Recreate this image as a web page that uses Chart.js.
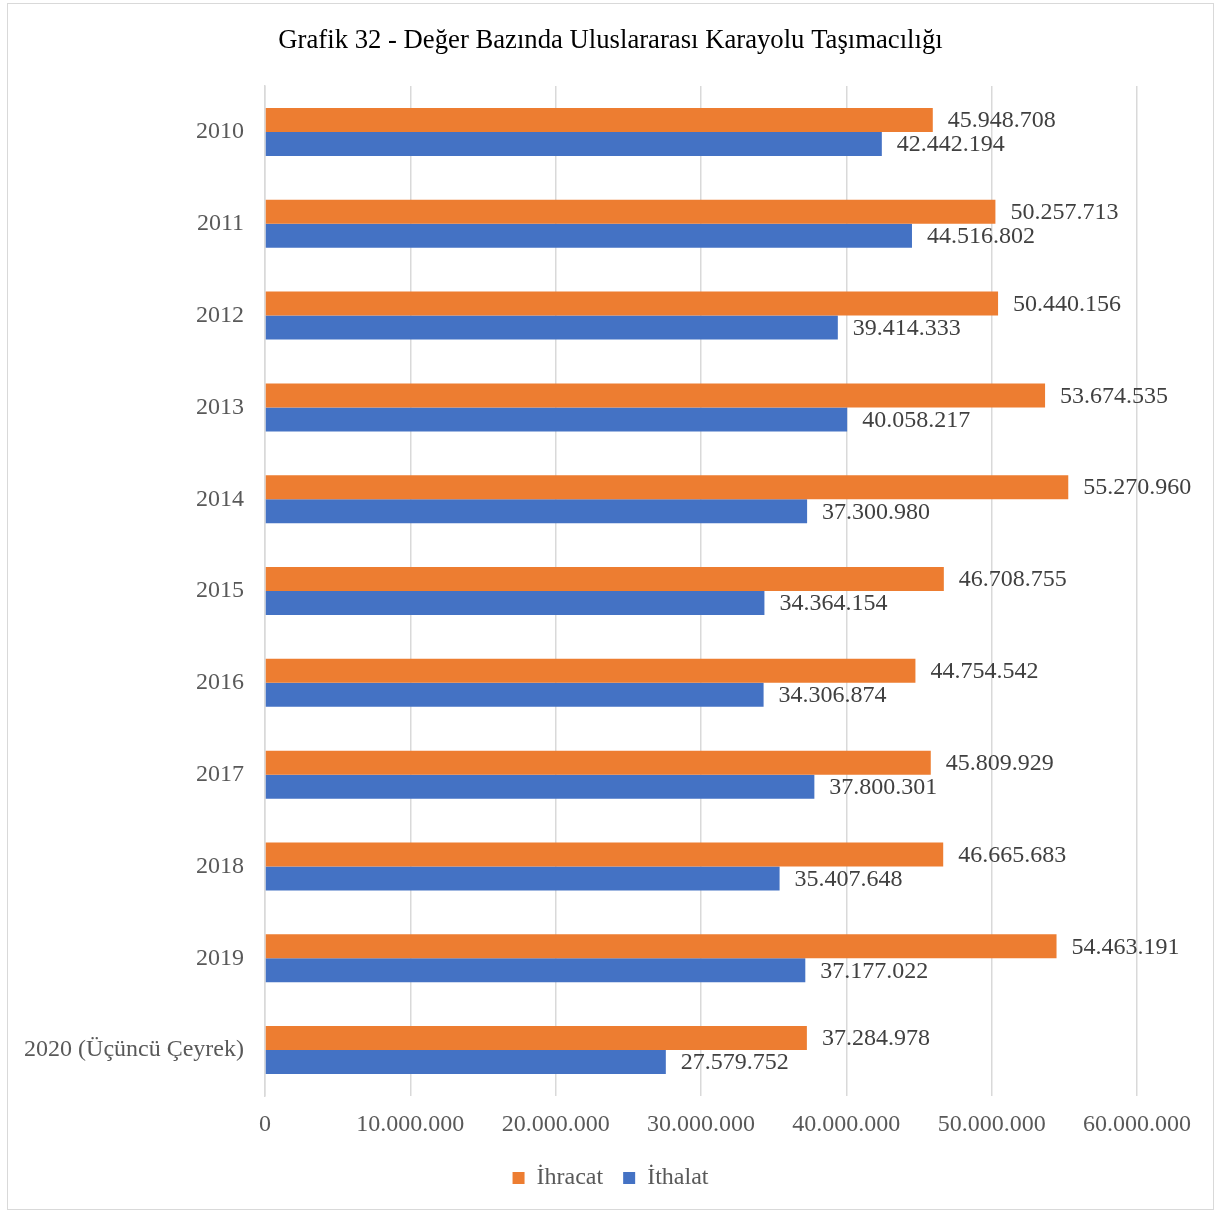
<!DOCTYPE html>
<html>
<head>
<meta charset="utf-8">
<script src="https://cdn.jsdelivr.net/npm/chart.js@4/dist/chart.umd.min.js"></script>
<style>
html,body{margin:0;padding:0;background:#fff;}
#box{position:absolute;left:7px;top:3px;width:1205px;height:1205px;border:1px solid #d9d9d9;}
canvas{display:block;}
</style>
</head>
<body>
<div id="box"><canvas id="myChart" width="1205" height="1205"></canvas></div>
<script>
// chart data
var years = ["2010","2011","2012","2013","2014","2015","2016","2017","2018","2019","2020 (Üçüncü Çeyrek)"];
var ihracat = [45948708,50257713,50440156,53674535,55270960,46708755,44754542,45809929,46665683,54463191,37284978];
var ithalat = [42442194,44516802,39414333,40058217,37300980,34364154,34306874,37800301,35407648,37177022,27579752];
var xTicks = [0,10000000,20000000,30000000,40000000,50000000,60000000];

var FONT = "'Liberation Serif','Times New Roman',serif";

function fmt(n){return String(n).replace(/\B(?=(\d{3})+(?!\d))/g,".");}

// draws the value next to each bar
var valueLabels = {
  id: "valueLabels",
  afterDatasetsDraw: function(chart){
    var ctx = chart.ctx;
    ctx.save();
    ctx.font = "24px " + FONT;
    ctx.fillStyle = "#404040";
    ctx.textAlign = "left";
    ctx.textBaseline = "middle";
    chart.data.datasets.forEach(function(ds, i){
      chart.getDatasetMeta(i).data.forEach(function(bar, j){
        ctx.fillText(fmt(ds.data[j]), bar.x + 15, bar.y + 1);
      });
    });
    ctx.restore();
  }
};

new Chart("myChart", {
  type: "bar",
  data: {
    labels: years,
    datasets: [
      {label: "İhracat", data: ihracat, backgroundColor: "#ED7D31", borderWidth: 0},
      {label: "İthalat", data: ithalat, backgroundColor: "#4472C4", borderWidth: 0}
    ]
  },
  options: {
    indexAxis: "y",
    responsive: false,
    animation: false,
    categoryPercentage: 0.523,
    barPercentage: 1,
    layout: {padding: {left: 0, right: 0, top: 0, bottom: 9}},
    plugins: {
      title: {
        display: true,
        text: "Grafik 32 - Değer Bazında Uluslararası Karayolu Taşımacılığı",
        color: "#000",
        font: {family: FONT, size: 26.7, weight: "normal"},
        padding: {top: 21, bottom: 29}
      },
      legend: {
        position: "bottom",
        labels: {
          color: "#595959",
          font: {family: FONT, size: 24},
          boxWidth: 12,
          boxHeight: 12,
          padding: 20
        }
      },
      tooltip: {enabled: false}
    },
    scales: {
      x: {
        min: 0,
        max: 60000000,
        afterBuildTicks: function(s){ s.ticks = xTicks.map(function(v){return {value: v};}); },
        afterFit: function(s){ s.height = 50; },
        grid: {color: "#d9d9d9", lineWidth: 1.5, drawTicks: false},
        border: {display: false},
        ticks: {
          color: "#595959",
          font: {family: FONT, size: 24},
          padding: 14,
          maxRotation: 0,
          callback: function(v){ return fmt(v); }
        }
      },
      y: {
        afterFit: function(s){ s.width = 257; },
        grid: {display: false, drawTicks: false},
        border: {display: true, color: "#d9d9d9", width: 1.5},
        ticks: {
          color: "#595959",
          font: {family: FONT, size: 24},
          padding: 21
        }
      },
      // empty right-hand space so the plot ends at 60.000.000 like the original
      yRight: {
        axis: "y",
        position: "right",
        afterFit: function(s){ s.width = 76; },
        grid: {display: false, drawTicks: false},
        border: {display: false},
        ticks: {display: false}
      }
    }
  },
  plugins: [valueLabels]
});
</script>
</body>
</html>
